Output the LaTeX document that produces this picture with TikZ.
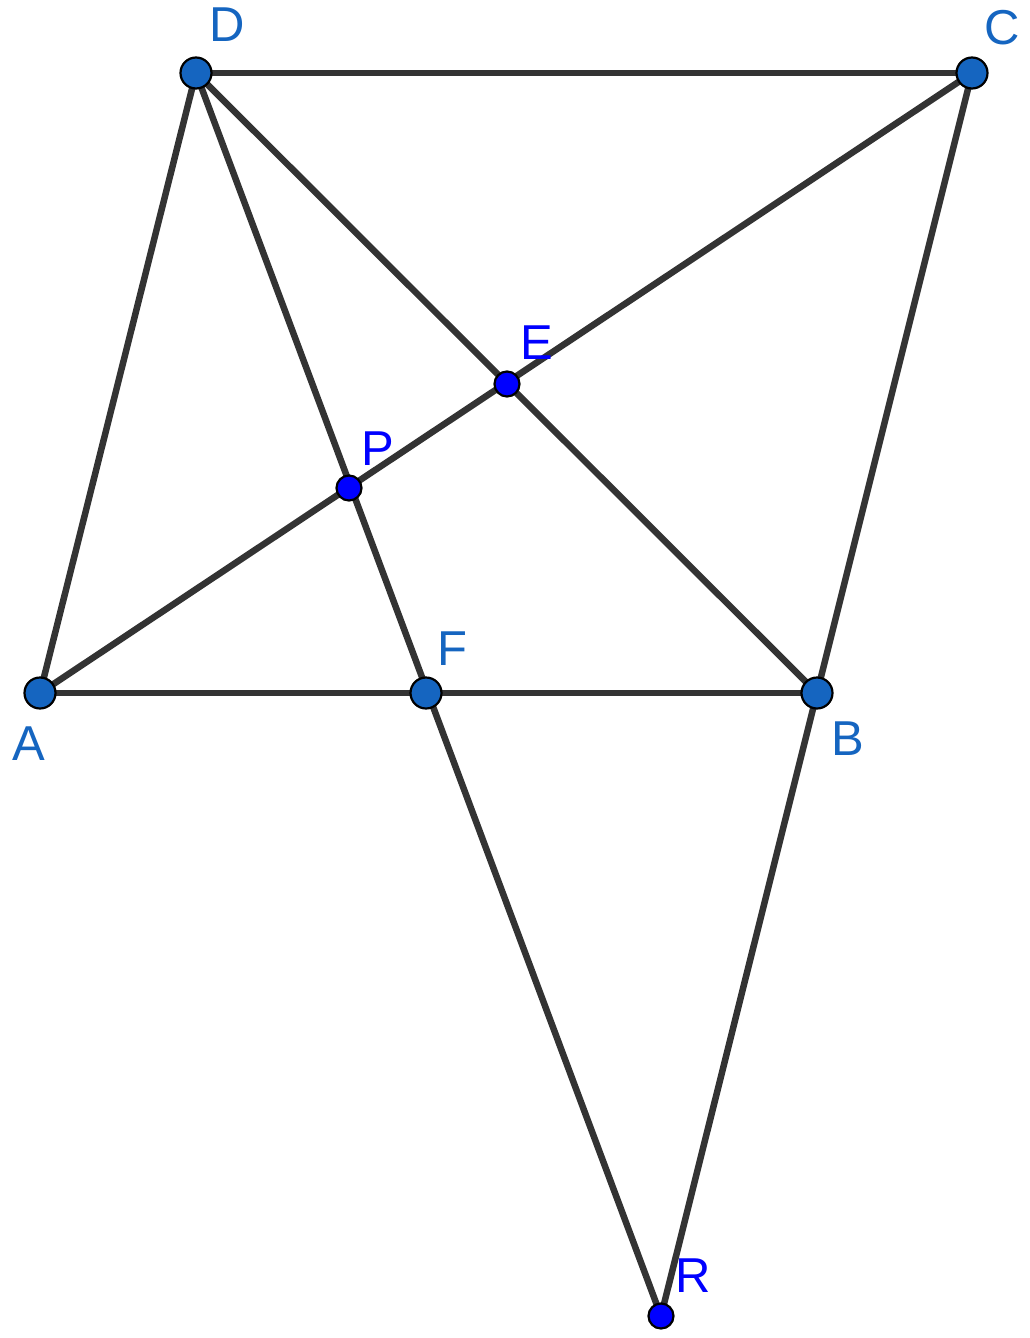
\documentclass[tikz,border=0pt]{standalone}
\usepackage{fontspec}
\setmainfont{Liberation Sans}
\definecolor{ptdark}{RGB}{21,101,192}
\definecolor{ptblue}{RGB}{0,0,255}
\definecolor{seg}{RGB}{51,51,51}
\tikzset{
  segline/.style={draw=seg,line width=6.5pt},
  bigpt/.style={circle,fill=ptdark,draw=black,line width=2.2pt,minimum size=31pt,inner sep=0pt},
  smallpt/.style={circle,fill=ptblue,draw=black,line width=2.2pt,minimum size=25pt,inner sep=0pt},
  lbl/.style={anchor=base west,inner sep=0pt,font=\fontsize{49}{59}\selectfont},
}
\begin{document}
\begin{tikzpicture}[x=1pt,y=-1pt]
\useasboundingbox (0,0) rectangle (1030,1338);
\coordinate (D) at (196,73);
\coordinate (C) at (972,73);
\coordinate (A) at (40,693);
\coordinate (B) at (817,693);
\coordinate (F) at (426,693);
\coordinate (E) at (507,384);
\coordinate (P) at (349,488);
\coordinate (R) at (661,1316);
\draw[segline] (D) -- (C);
\draw[segline] (D) -- (A);
\draw[segline] (C) -- (B);
\draw[segline] (A) -- (B);
\draw[segline] (A) -- (C);
\draw[segline] (D) -- (B);
\draw[segline] (D) -- (R);
\draw[segline] (B) -- (R);
\node[bigpt] (nD) at (D) {};
\node[bigpt] (nC) at (C) {};
\node[bigpt] (nA) at (A) {};
\node[bigpt] (nB) at (B) {};
\node[bigpt] (nF) at (F) {};
\node[smallpt] (nE) at (E) {};
\node[smallpt] (nP) at (P) {};
\node[smallpt] (nR) at (R) {};
\node[lbl,text=ptdark] (tD) at (209,42) {D};
\node[lbl,text=ptdark] (tC) at (984,45) {C};
\node[lbl,text=ptdark] (tA) at (12,760) {A};
\node[lbl,text=ptdark] (tB) at (831,755) {B};
\node[lbl,text=ptdark] (tF) at (437,665) {F};
\node[lbl,text=ptblue] (tE) at (520,359) {E};
\node[lbl,text=ptblue] (tP) at (361,465) {P};
\node[lbl,text=ptblue] (tR) at (675,1292) {R};
\end{tikzpicture}
\end{document}
